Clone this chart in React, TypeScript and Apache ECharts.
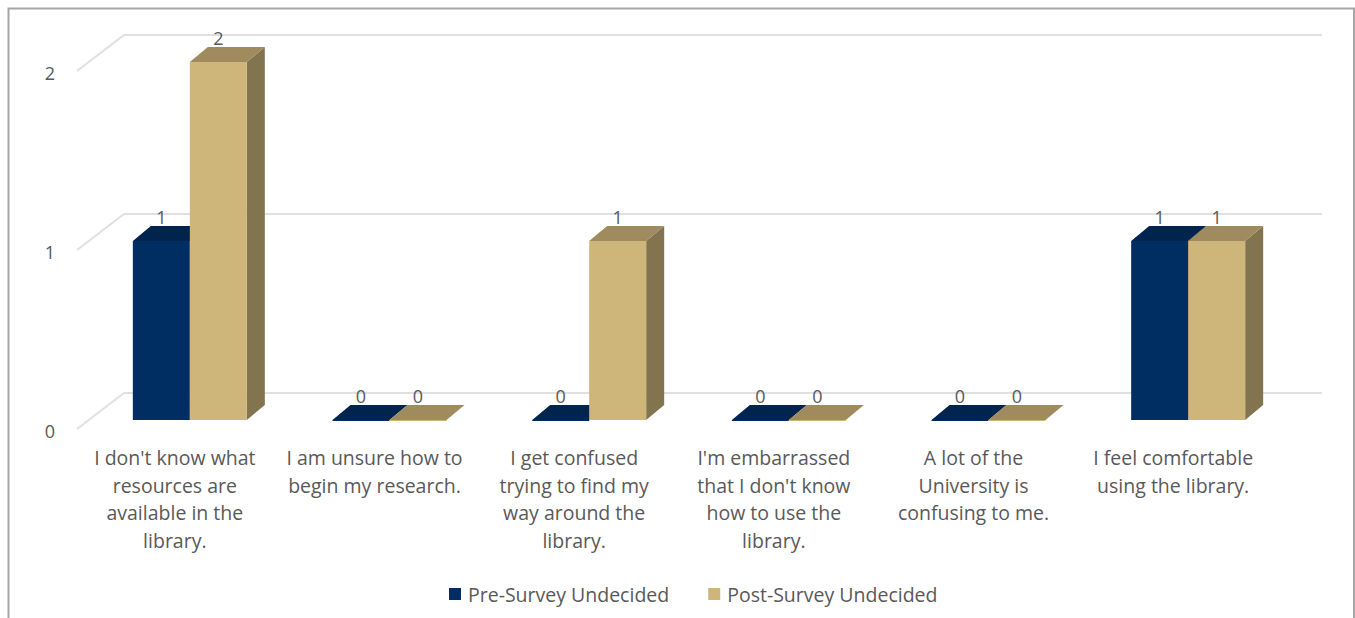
import React, { useEffect, useRef } from "react";
import * as echarts from "echarts";

const categories = [
  "I don't know what\nresources are\navailable in the\nlibrary.",
  "I am unsure how to\nbegin my research.",
  "I get confused\ntrying to find my\nway around the\nlibrary.",
  "I'm embarrassed\nthat I don't know\nhow to use the\nlibrary.",
  "A lot of the\nUniversity is\nconfusing to me.",
  "I feel comfortable\nusing the library.",
];
const preSurvey = [1, 0, 0, 0, 0, 1];
const postSurvey = [2, 0, 1, 0, 0, 1];
const FONT = "Open Sans";
const TEXT = "#595959";
const GRID = "#e0e0e0";
const WALL_DX = 47, WALL_DY = -36;
const BAR_W = 57, BAR_DX = 13, BASE_DY = -9, DEPTH_X = 18, DEPTH_Y = -15;

const bar3d = (side: -1 | 1, colors: { front: string; top: string; side: string }) =>
  (params: any, api: any) => {
    const p = api.coord([api.value(0), api.value(1)]);
    const cx = p[0] + BAR_DX;
    const x0 = side < 0 ? cx - BAR_W : cx;
    const x1 = x0 + BAR_W;
    const yTop = p[1] + BASE_DY;
    const yBase = api.coord([api.value(0), 0])[1] + BASE_DY;
    const poly = (points: number[][], fill: string) => ({
      type: "polygon",
      shape: { points },
      style: { fill },
    });
    const children: any[] = [
      poly([[x1, yTop], [x1 + DEPTH_X, yTop + DEPTH_Y], [x1 + DEPTH_X, yBase + DEPTH_Y], [x1, yBase]], colors.side),
      poly([[x0, yTop], [x1, yTop], [x1 + DEPTH_X, yTop + DEPTH_Y], [x0 + DEPTH_X, yTop + DEPTH_Y]], colors.top),
      poly([[x0, yTop], [x1, yTop], [x1, Math.max(yBase, yTop + 1)], [x0, Math.max(yBase, yTop + 1)]], colors.front),
      {
        type: "text",
        style: {
          x: x0 + BAR_W / 2,
          y: yTop + DEPTH_Y - 9.5,
          text: String(api.value(1)),
          fill: TEXT,
          stroke: "none",
          font: `18px "${FONT}"`,
          align: "center",
          verticalAlign: "middle",
        },
      },
    ];
    return { type: "group", children };
  };

const wallTicks = [0, 1, 2];

export default function App() {
  const ref = useRef<HTMLDivElement>(null);
  useEffect(() => {
    const chart = echarts.init(ref.current!, undefined, { renderer: "svg" });
    chart.setOption({
      animation: false,
      backgroundColor: "#ffffff",
      textStyle: { fontFamily: FONT },
      grid: [
        { left: 77, top: 71, width: 1198, height: 358 },
        { left: 124, top: 35, width: 1198, height: 358 },
      ],
      xAxis: [
        {
          type: "category",
          gridIndex: 0,
          data: categories,
          axisLine: { show: false },
          axisTick: { show: false },
          axisLabel: {
            interval: 0,
            color: TEXT,
            fontFamily: FONT,
            fontSize: 19.5,
            lineHeight: 27.5,
            margin: 15,
            align: "center",
            verticalAlign: "top",
            padding: [0, 4, 0, 0],
          },
        },
        { type: "category", gridIndex: 1, data: categories, show: false },
      ],
      yAxis: [
        {
          type: "value",
          gridIndex: 0,
          min: 0,
          max: 2,
          interval: 1,
          splitLine: { show: false },
          axisLine: { show: false },
          axisTick: { show: false },
          axisLabel: {
            color: TEXT,
            fontFamily: FONT,
            fontSize: 18,
            margin: 22,
            verticalAlign: "top",
            lineHeight: 4,
          },
        },
        {
          type: "value",
          gridIndex: 1,
          min: 0,
          max: 2,
          interval: 1,
          axisLabel: { show: false },
          axisLine: { show: false },
          axisTick: { show: false },
          splitLine: { show: true, lineStyle: { color: GRID, width: 2 } },
        },
      ],
      legend: {
        left: 449,
        top: 584,
        padding: 0,
        itemWidth: 12,
        itemHeight: 12,
        itemGap: 39,
        icon: "rect",
        textStyle: { color: TEXT, fontFamily: FONT, fontSize: 19.5, padding: [0, 0, 0, 2] },
        data: ["Pre-Survey Undecided", "Post-Survey Undecided"],
      },
      series: [
        {
          type: "custom",
          name: "wall",
          xAxisIndex: 0,
          yAxisIndex: 0,
          silent: true,
          z: 1,
          clip: false,
          data: wallTicks.map((t) => [0, t]),
          renderItem: (_p: any, api: any) => {
            const pt = api.coord([0, api.value(1)]);
            const x = pt[0] - api.size([1, 0])[0] / 2;
            return {
              type: "line",
              shape: { x1: x, y1: pt[1], x2: x + WALL_DX, y2: pt[1] + WALL_DY },
              style: { stroke: GRID, lineWidth: 2 },
            };
          },
        },
        {
          type: "custom",
          name: "Pre-Survey Undecided",
          xAxisIndex: 0,
          yAxisIndex: 0,
          z: 3,
          clip: false,
          itemStyle: { color: "#002d62" },
          data: preSurvey.map((v, i) => [i, v]),
          renderItem: bar3d(-1, { front: "#002d62", top: "#00244e", side: "#002040" }),
        },
        {
          type: "custom",
          name: "Post-Survey Undecided",
          xAxisIndex: 0,
          yAxisIndex: 0,
          z: 4,
          clip: false,
          itemStyle: { color: "#ceb67b" },
          data: postSurvey.map((v, i) => [i, v]),
          renderItem: bar3d(1, { front: "#ceb67b", top: "#9f8b5d", side: "#81744e" }),
        },
      ],
      graphic: [
        {
          type: "polyline",
          silent: true,
          shape: { points: [[8.5, 618], [8.5, 8.5], [1354, 8.5], [1354, 618]] },
          style: { stroke: "#a6a6a6", fill: "none", lineWidth: 2 },
        },
      ],
    });
    return () => chart.dispose();
  }, []);
  return (
    <div
      ref={ref}
      style={{ position: "absolute", left: 0, top: 0, width: 1355, height: 618 }}
    />
  );
}
